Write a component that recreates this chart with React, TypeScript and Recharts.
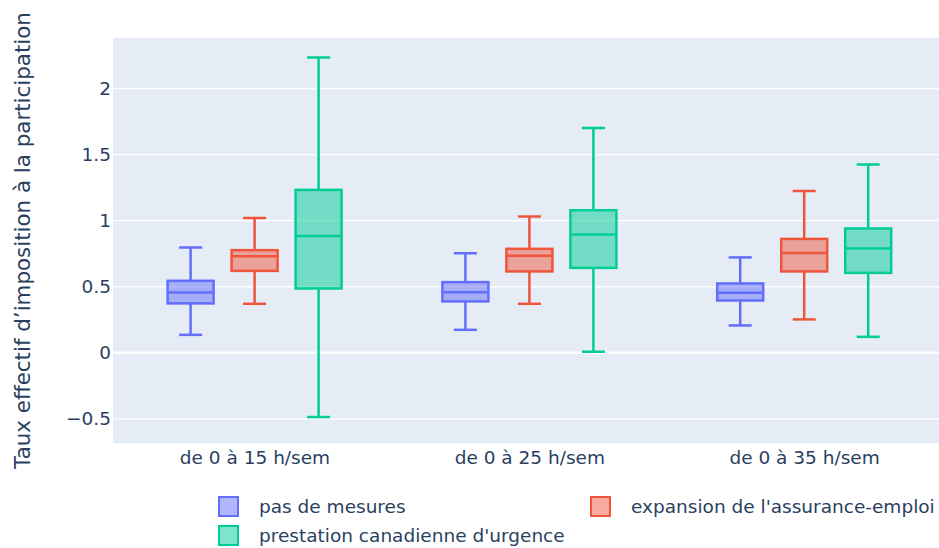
import React from "react";
import {
  ComposedChart,
  Bar,
  XAxis,
  YAxis,
  CartesianGrid,
} from "recharts";

const categories = ["de 0 à 15 h/sem", "de 0 à 25 h/sem", "de 0 à 35 h/sem"];

const seriesNames = [
  "pas de mesures",
  "expansion de l'assurance-emploi",
  "prestation canadienne d'urgence",
];
const seriesColors = ["#636EFA", "#EF553B", "#00CC96"];

// [min, q1, median, q3, max] per category
const pasDeMesures = [
  [0.136, 0.374, 0.457, 0.545, 0.797],
  [0.174, 0.389, 0.459, 0.535, 0.754],
  [0.207, 0.396, 0.454, 0.525, 0.722],
];
const expansionAE = [
  [0.371, 0.62, 0.731, 0.777, 1.021],
  [0.371, 0.616, 0.734, 0.787, 1.032],
  [0.253, 0.616, 0.756, 0.862, 1.225],
];
const pcu = [
  [-0.486, 0.487, 0.885, 1.233, 2.234],
  [0.008, 0.643, 0.896, 1.079, 1.702],
  [0.121, 0.605, 0.79, 0.941, 1.425],
];

const yTicks = [-0.5, 0, 0.5, 1, 1.5, 2];
const yDomain = [-0.69, 2.39];

const allSeries = [pasDeMesures, expansionAE, pcu];
const keys = ["s0", "s1", "s2"];

const data = categories.map((cat, i) => {
  const row: any = { cat };
  allSeries.forEach((s, k) => {
    row[keys[k]] = [s[i][0], s[i][4]];
    row[keys[k] + "_stats"] = s[i];
  });
  return row;
});

const FONT = "'DejaVu Sans', Verdana, sans-serif";
const TEXT_COLOR = "#2a3f5f";
const TICK_SIZE = 18.5;

const makeBoxShape = (k: number) => (props: any) => {
  const { x, y, width, height, payload } = props;
  const stats = payload[keys[k] + "_stats"];
  const [mn, q1, med, q3, mx] = stats;
  const py = (v: number) => y + ((mx - v) * height) / (mx - mn);
  const color = seriesColors[k];
  const cx = x + width / 2;
  const capHalf = width / 4;
  return (
    <g>
      <line x1={cx} x2={cx} y1={py(mx)} y2={py(q3)} stroke={color} strokeWidth={2.5} />
      <line x1={cx} x2={cx} y1={py(q1)} y2={py(mn)} stroke={color} strokeWidth={2.5} />
      <line x1={cx - capHalf} x2={cx + capHalf} y1={py(mx)} y2={py(mx)} stroke={color} strokeWidth={2.5} />
      <line x1={cx - capHalf} x2={cx + capHalf} y1={py(mn)} y2={py(mn)} stroke={color} strokeWidth={2.5} />
      <rect
        x={x}
        y={py(q3)}
        width={width}
        height={py(q1) - py(q3)}
        fill={color}
        fillOpacity={0.5}
        stroke={color}
        strokeWidth={2.5}
      />
      <line x1={x} x2={x + width} y1={py(med)} y2={py(med)} stroke={color} strokeWidth={2.5} />
    </g>
  );
};

const fmt = (v: number) => String(v).replace("-", "\u2212");

const YTitle = (props: any) => {
  const vb = props.viewBox;
  const cx = 22;
  const cy = vb.y + vb.height / 2;
  return (
    <text
      x={cx}
      y={cy}
      transform={`rotate(-90, ${cx}, ${cy})`}
      textAnchor="middle"
      dominantBaseline="central"
      fill={TEXT_COLOR}
      fontSize={21.4}
      fontFamily={FONT}
    >
      Taux effectif d’imposition à la participation
    </text>
  );
};

const Swatch = ({ color }: { color: string }) => (
  <span
    style={{
      display: "inline-block",
      width: 17,
      height: 17,
      background: color + "80",
      border: `2px solid ${color}`,
      boxSizing: "content-box",
    }}
  />
);

const legendPos = [
  { left: 218, top: 496 },
  { left: 590, top: 496 },
  { left: 218, top: 525 },
];

export default function App() {
  return (
    <div style={{ position: "relative", width: 939, height: 548, overflow: "hidden", background: "#fff" }}>
      <style>{`body{margin:0}`}</style>
      <ComposedChart
        width={942}
        height={548}
        data={data}
        margin={{ top: 37, right: 0, bottom: 74, left: 0 }}
        barSize={46}
        barGap={18}
      >
        <CartesianGrid vertical={false} stroke="#ffffff" strokeWidth={1.3} fill="#E5ECF6" />
        <CartesianGrid
          vertical={false}
          horizontalValues={[0]}
          stroke="#ffffff"
          strokeWidth={2.5}
          fill="none"
        />
        <XAxis
          dataKey="cat"
          height={30}
          axisLine={false}
          tickLine={false}
          tickSize={0}
          tickMargin={7}
          padding={{ left: 4.6, right: 0 }}
          tick={{ fill: TEXT_COLOR, fontSize: TICK_SIZE, fontFamily: FONT }}
        />
        <YAxis
          type="number"
          domain={yDomain}
          ticks={yTicks}
          width={113}
          axisLine={false}
          tickLine={false}
          tickSize={0}
          tickMargin={2}
          allowDataOverflow
          tickFormatter={fmt}
          tick={{ fill: TEXT_COLOR, fontSize: TICK_SIZE, fontFamily: FONT }}
          label={<YTitle />}
        />
        {keys.map((k, i) => (
          <Bar
            key={k}
            dataKey={k}
            name={seriesNames[i]}
            isAnimationActive={false}
            shape={makeBoxShape(i)}
          />
        ))}
      </ComposedChart>
      {seriesNames.map((n, i) => (
        <div
          key={n}
          style={{
            position: "absolute",
            left: legendPos[i].left,
            top: legendPos[i].top,
            height: 21,
            display: "flex",
            alignItems: "center",
            fontFamily: FONT,
            fontSize: TICK_SIZE,
            color: TEXT_COLOR,
            whiteSpace: "nowrap",
          }}
        >
          <Swatch color={seriesColors[i]} />
          <span style={{ marginLeft: 20 }}>{n}</span>
        </div>
      ))}
    </div>
  );
}
